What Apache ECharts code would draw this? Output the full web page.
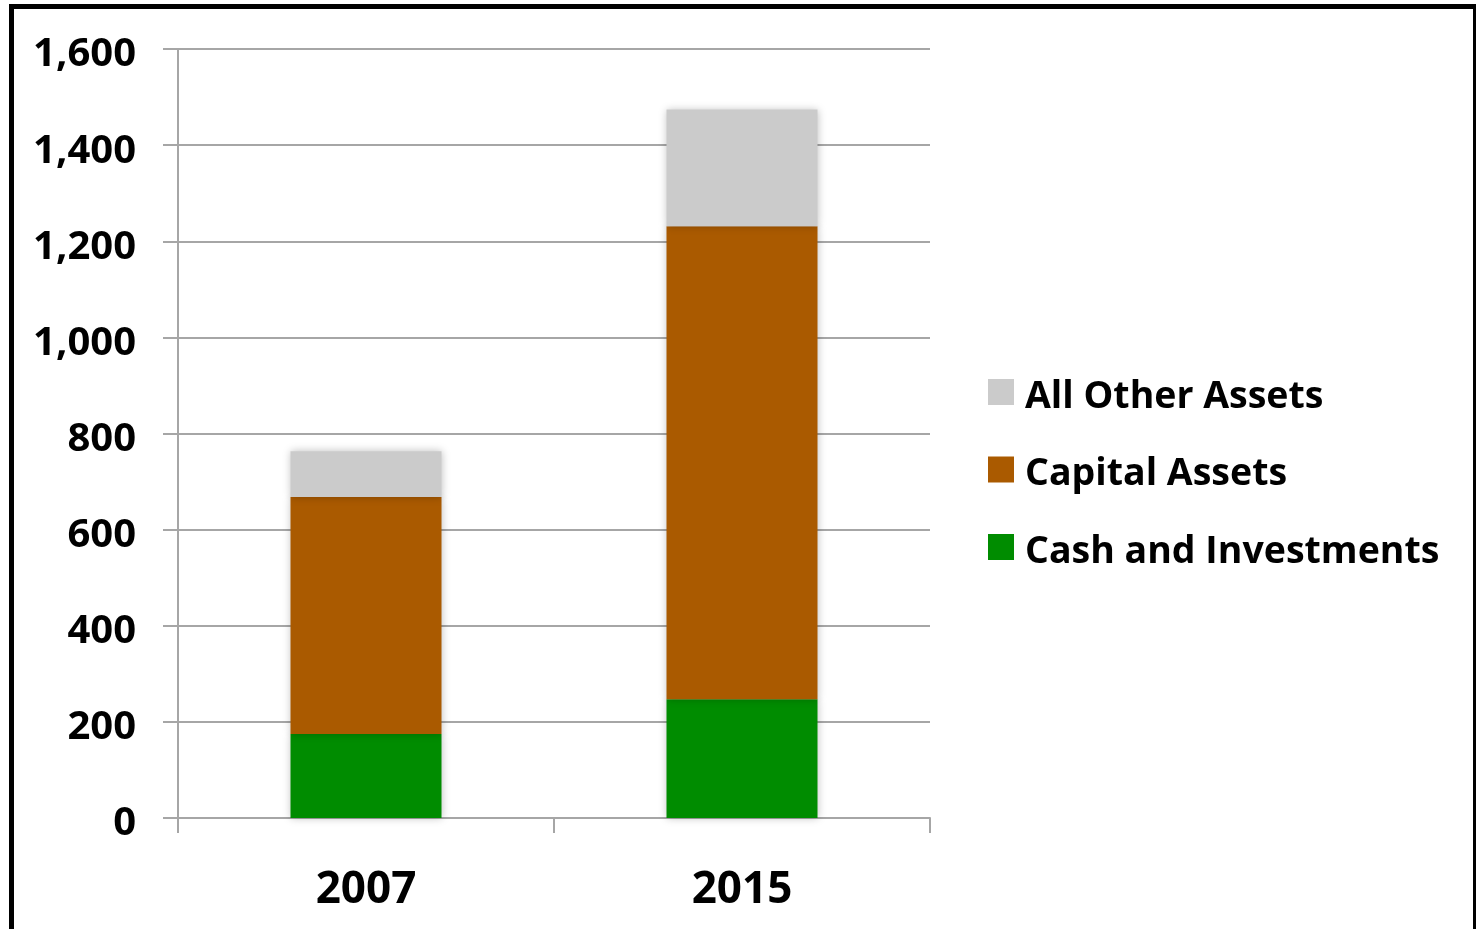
<!DOCTYPE html>
<html>
<head>
<meta charset="utf-8">
<script src="https://cdn.jsdelivr.net/npm/echarts@6/dist/echarts.min.js"></script>
<style>
html,body{margin:0;padding:0;background:#fff;overflow:hidden;}
#frame{position:absolute;left:9px;top:4px;width:1467px;height:1000px;box-sizing:border-box;border-left:5px solid #000;border-top:5px solid #000;border-right:3px solid #000;}
#chart{position:absolute;left:0;top:0;width:1476px;height:929px;}
</style>
</head>
<body>
<div id="frame"></div>
<div id="chart"></div>
<script>
const categories = ['2007', '2015'];
const cashAndInvestments = [175, 247];
const capitalAssets = [493, 984];
const allOtherAssets = [95, 243];
const yTicks = [0, 200, 400, 600, 800, 1000, 1200, 1400, 1600];

const FONT = '"Open Sans", "DejaVu Sans", sans-serif';
const chart = echarts.init(document.getElementById('chart'), null, {renderer: 'canvas'});
const barStyle = (color) => ({
  color: color,
  shadowBlur: 8,
  shadowColor: 'rgba(0,0,0,0.25)'
});
chart.setOption({
  backgroundColor: 'transparent',
  animation: false,
  grid: {left: 178, right: 546, top: 49, bottom: 111, containLabel: false},
  legend: {
    orient: 'vertical',
    left: 988,
    top: 368,
    padding: 0,
    icon: 'rect',
    itemWidth: 26,
    itemHeight: 26,
    itemGap: 29.5,
    data: ['All Other Assets', 'Capital Assets', 'Cash and Investments'],
    formatter: (n) => '{t|' + n + '}',
    textStyle: {
      rich: {t: {fontFamily: FONT, fontWeight: 'bold', fontSize: 37.5, color: '#000', lineHeight: 36, padding: [10, 0, 0, 6]}}
    }
  },
  xAxis: {
    type: 'category',
    data: categories,
    axisLine: {lineStyle: {color: '#a6a6a6', width: 2}},
    axisTick: {show: true, length: 15, lineStyle: {color: '#a6a6a6', width: 2}},
    axisLabel: {fontFamily: FONT, fontWeight: 'bold', fontSize: 44, color: '#000', margin: 50}
  },
  yAxis: {
    type: 'value',
    min: 0,
    max: 1600,
    interval: 200,
    axisLine: {show: true, lineStyle: {color: '#a6a6a6', width: 2}},
    axisTick: {show: true, length: 15, lineStyle: {color: '#a6a6a6', width: 2}},
    splitLine: {show: true, lineStyle: {color: '#a6a6a6', width: 2}},
    axisLabel: {
      margin: 42,
      formatter: (v) => yTicks.includes(v) ? '{t|' + v.toLocaleString('en-US') + '}' : '',
      rich: {t: {fontFamily: FONT, fontWeight: 'bold', fontSize: 40, color: '#000', lineHeight: 40, padding: [12, 0, 0, 0]}}
    }
  },
  series: [
    {name: 'Cash and Investments', type: 'bar', stack: 'a', data: cashAndInvestments, barWidth: 151, itemStyle: barStyle('#008c00')},
    {name: 'Capital Assets', type: 'bar', stack: 'a', data: capitalAssets, barWidth: 151, itemStyle: barStyle('#aa5a00')},
    {name: 'All Other Assets', type: 'bar', stack: 'a', data: allOtherAssets, barWidth: 151, itemStyle: barStyle('#cbcbcb')}
  ]
});
</script>
</body>
</html>
